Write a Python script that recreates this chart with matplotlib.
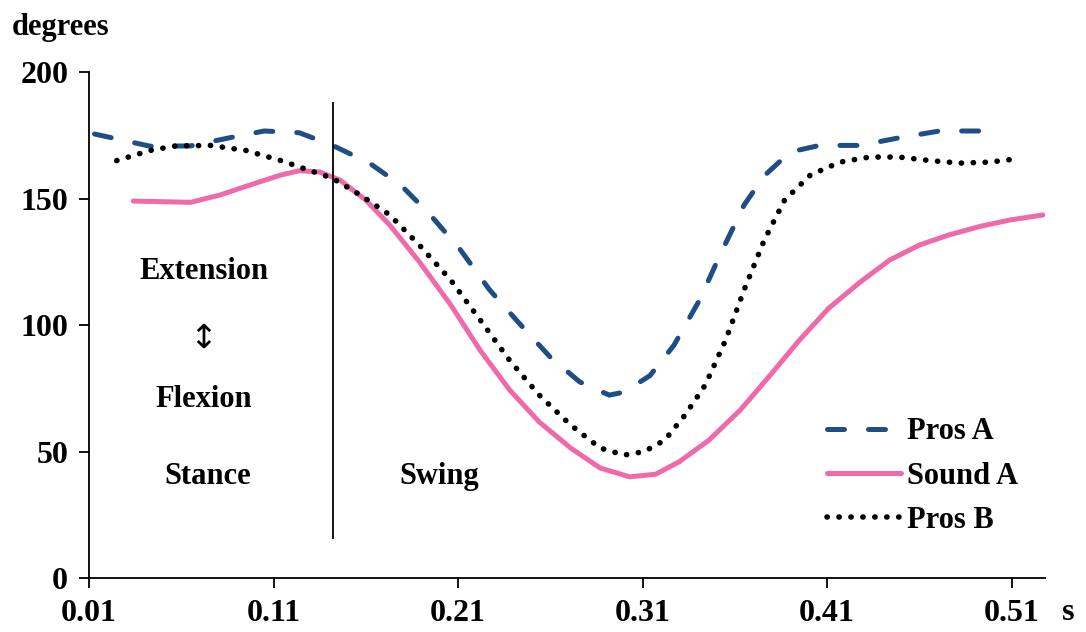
import matplotlib
matplotlib.use("Agg")
import matplotlib.pyplot as plt

# knee angle over one gait cycle (seconds, degrees)
pros_a_t = [0.013, 0.043, 0.065, 0.086, 0.105, 0.124, 0.142, 0.162, 0.179, 0.195,
            0.211, 0.227, 0.244, 0.260, 0.276, 0.292, 0.300, 0.314, 0.327, 0.341,
            0.352, 0.365, 0.376, 0.390, 0.406, 0.428, 0.449, 0.471, 0.495]
pros_a = [175.5, 170.7, 170.8, 174.0, 176.7, 176.0, 171.0, 164.0, 155.3, 143.5,
          130.0, 114.0, 100.0, 87.3, 77.5, 72.3, 73.5, 80.0, 92.0, 110.0,
          127.7, 147.4, 159.0, 168.4, 171.0, 171.0, 174.0, 176.7, 176.7]

sound_a_t = [0.034, 0.065, 0.081, 0.097, 0.114, 0.124, 0.135, 0.146, 0.160, 0.173,
             0.189, 0.206, 0.222, 0.238, 0.254, 0.271, 0.287, 0.303, 0.317, 0.330,
             0.346, 0.363, 0.379, 0.395, 0.411, 0.428, 0.444, 0.460, 0.476, 0.493,
             0.509, 0.527]
sound_a = [149.0, 148.5, 151.4, 155.3, 159.3, 161.0, 160.5, 157.3, 149.4, 139.5,
           125.0, 108.0, 90.0, 74.3, 61.7, 51.4, 43.5, 40.0, 41.0, 46.0,
           54.5, 66.4, 80.0, 94.0, 106.7, 117.0, 125.7, 131.6, 135.6, 139.0,
           141.5, 143.5]

pros_b_t = [0.025, 0.043, 0.057, 0.076, 0.095, 0.114, 0.130, 0.142, 0.157, 0.173,
            0.189, 0.206, 0.222, 0.238, 0.254, 0.271, 0.287, 0.300, 0.311, 0.322,
            0.333, 0.344, 0.355, 0.365, 0.376, 0.387, 0.401, 0.417, 0.433, 0.449,
            0.466, 0.482, 0.498, 0.512]
pros_b = [165.0, 169.0, 170.8, 171.0, 169.0, 165.0, 161.0, 158.0, 151.4, 143.5,
          131.6, 117.8, 102.0, 86.0, 72.3, 60.5, 51.4, 48.6, 50.0, 54.5,
          64.4, 76.3, 94.0, 113.8, 133.6, 149.4, 159.3, 164.4, 166.4, 166.4,
          165.0, 164.0, 164.4, 165.6]

# toe-off marker between stance and swing
toe_off = 0.142

x_ticks = [0.01, 0.11, 0.21, 0.31, 0.41, 0.51]
y_ticks = [0, 50, 100, 150, 200]

serif = ["Liberation Serif", "DejaVu Serif"]
plt.rcParams["font.family"] = serif
plt.rcParams["font.weight"] = "bold"

fig = plt.figure(figsize=(10.86, 6.32), dpi=100)
ax = fig.add_axes([0.082, 0.0854, 0.880, 0.8006])

ax.plot(pros_a_t, pros_a, color="#1f4e85", lw=3.6, linestyle=(0, (3.4, 4.8)),
        dash_capstyle="round", solid_joinstyle="round", label="Pros A")
ax.plot(sound_a_t, sound_a, color="#ef6aa8", lw=3.6, label="Sound A",
        solid_capstyle="round", solid_joinstyle="round")
ax.plot(pros_b_t, pros_b, color="black", lw=4, linestyle=(0, (0.05, 2.1)),
        dash_capstyle="round", label="Pros B")

ax.plot([toe_off, toe_off], [15.8, 187.7], color="black", lw=1.3)

ax.set_xlim(0.01, 0.528)
ax.set_ylim(0, 200)
ax.set_xticks(x_ticks)
ax.set_xticklabels([f"{t:.2f}" for t in x_ticks])
ax.set_yticks(y_ticks)
ax.tick_params(direction="out", length=7, width=1.3, labelsize=23, pad=8)
for lbl in ax.get_xticklabels() + ax.get_yticklabels():
    lbl.set_fontweight("bold")
ax.spines["top"].set_visible(False)
ax.spines["right"].set_visible(False)
ax.spines["left"].set_linewidth(1.3)
ax.spines["bottom"].set_linewidth(1.3)

txt = dict(ha="center", va="center", fontsize=22, fontweight="bold")
ax.text(0.0721, 121.0, "Extension", **txt)
ax.text(0.0721, 94.9, "\u2195", ha="center", va="center", fontsize=24,
        fontweight="normal", family=["DejaVu Sans"])
ax.text(0.0721, 70.4, "Flexion", **txt)
ax.text(0.0744, 40.3, "Stance", **txt)
ax.text(0.1999, 40.3, "Swing", **txt)

fig.text(12 / 1086, 1 - 27 / 632, "degrees", ha="left", va="center",
         fontsize=22, fontweight="bold")
fig.text(1068 / 1086, 1 - 612 / 632, "s", ha="center", va="center",
         fontsize=23, fontweight="bold")

leg = ax.legend(loc="lower right", bbox_to_anchor=(0.972, 0.085), frameon=False,
                prop={"size": 22, "weight": "bold"}, handlelength=2.4,
                handletextpad=0.2, labelspacing=0.5, borderpad=0,
                borderaxespad=0)

fig.savefig("out.png", dpi=100)
